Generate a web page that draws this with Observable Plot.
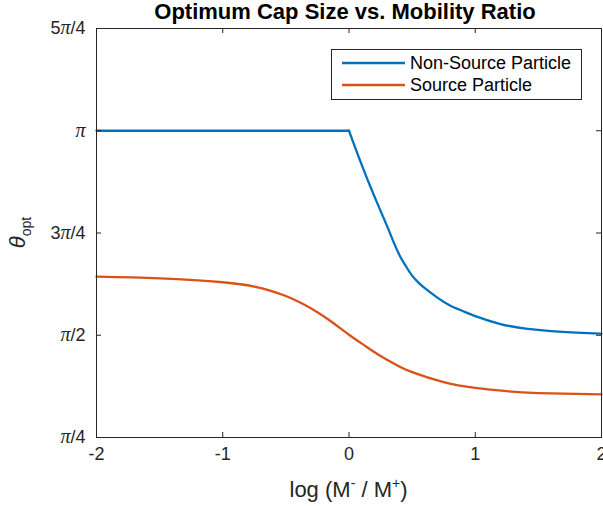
<!DOCTYPE html>
<html>
<head>
<meta charset="utf-8">
<script src="https://cdn.jsdelivr.net/npm/d3@7"></script>
<script src="https://cdn.jsdelivr.net/npm/@observablehq/plot@0.6"></script>
<style>
  html, body { margin: 0; padding: 0; background: white; }
</style>
</head>
<body>
<div id="chart"></div>
<script>
// ---- data (theta in radians) ----
const seriesNames = ["Non-Source Particle", "Source Particle"];
const seriesColors = ["#0072BD", "#D95319"];

const xBlue = [-2, -1, 0, 0.1, 0.2, 0.3, 0.35, 0.4, 0.45, 0.5, 0.55, 0.6, 0.7, 0.8, 0.9, 1.0, 1.2, 1.4, 1.6, 1.8, 2.0];
const thetaBlue = [3.1416, 3.1416, 3.1416, 2.881, 2.640, 2.413, 2.294, 2.186, 2.102, 2.029, 1.975, 1.933, 1.860, 1.799, 1.757, 1.718, 1.657, 1.622, 1.603, 1.591, 1.582];

const xRed = [-2, -1.5, -1, -0.75, -0.625, -0.5, -0.375, -0.25, -0.125, 0, 0.125, 0.25, 0.375, 0.5, 0.75, 1, 1.25, 1.5, 2];
const thetaRed = [2.021, 2.008, 1.978, 1.945, 1.914, 1.872, 1.816, 1.747, 1.665, 1.575, 1.491, 1.411, 1.343, 1.287, 1.211, 1.167, 1.141, 1.127, 1.116];

const xTicks = [-2, -1, 0, 1, 2];
const yTickValues = [Math.PI / 4, Math.PI / 2, 3 * Math.PI / 4, Math.PI, 5 * Math.PI / 4];
const yTickLabels = ["π/4", "π/2", "3π/4", "π", "5π/4"];

const titleText = "Optimum Cap Size vs. Mobility Ratio";

// ---- layout ----
const W = 603, H = 506;
const mL = 96, mR = 2, mT = 28, mB = 69;
const innerW = W - mL - mR, innerH = H - mT - mB;
const axisColor = "#262626";
const tickLen = 5;
const font = "'Liberation Sans', Arial, Helvetica, sans-serif";
const piFont = "'Liberation Serif', 'Times New Roman', serif";

const blue = xBlue.map((x, i) => ({x, y: thetaBlue[i]}));
const red = xRed.map((x, i) => ({x, y: thetaRed[i]}));

const chart = Plot.plot({
  width: W, height: H,
  marginLeft: mL, marginRight: mR, marginTop: mT, marginBottom: mB,
  style: {fontFamily: font, fontSize: "18px", color: axisColor, background: "white", overflow: "visible"},
  x: {domain: [-2, 2]},
  y: {domain: [Math.PI / 4, 5 * Math.PI / 4]},
  marks: [
    Plot.line(blue, {filter: d => d.x <= 0, x: "x", y: "y", stroke: seriesColors[0], strokeWidth: 2.3}),
    Plot.line(blue, {filter: d => d.x >= 0, x: "x", y: "y", stroke: seriesColors[0], strokeWidth: 2.3, curve: "natural"}),
    Plot.line(red, {x: "x", y: "y", stroke: seriesColors[1], strokeWidth: 2.3, curve: "natural"}),
    Plot.tickX(xTicks, {x: d => d, insetTop: innerH - tickLen, stroke: axisColor}),
    Plot.tickX(xTicks, {x: d => d, insetBottom: innerH - tickLen, stroke: axisColor}),
    Plot.tickY(yTickValues, {y: d => d, insetRight: innerW - tickLen, stroke: axisColor}),
    Plot.tickY(yTickValues, {y: d => d, insetLeft: innerW - tickLen, stroke: axisColor}),
    Plot.frame({stroke: axisColor, strokeWidth: 1}),
    Plot.axisX(xTicks, {tickSize: 0, tickPadding: 10, label: null, fontSize: 18, tickFormat: d => String(d).replace("−", "-")}),
    Plot.axisY(yTickValues, {tickSize: 0, tickPadding: 11, label: null, fontSize: 18,
      tickFormat: d => yTickLabels[yTickValues.indexOf(d)]})
  ]
});

document.getElementById("chart").appendChild(chart);

const svg = d3.select(chart);

// render π in y tick labels with a slanted serif glyph (as in the reference)
svg.selectAll("g[aria-label='y-axis tick label'] text").each(function () {
  const t = d3.select(this);
  const s = t.text();
  if (!s.includes("π")) return;
  t.text(null);
  s.split(/(π)/).filter(p => p.length).forEach(p => {
    const sp = t.append("tspan").text(p);
    if (p === "π") sp.attr("font-family", piFont).attr("font-style", "italic").attr("font-size", 20);
  });
});

// title
svg.append("text")
  .attr("x", 345).attr("y", 19)
  .attr("text-anchor", "middle")
  .attr("font-family", font).attr("font-weight", "bold").attr("font-size", 22)
  .attr("fill", "#000")
  .text(titleText);

// x label: log (M⁻ / M⁺)
const xl = svg.append("text")
  .attr("x", mL + innerW / 2).attr("y", 497)
  .attr("text-anchor", "middle")
  .attr("font-family", font).attr("font-size", 22)
  .attr("fill", axisColor);
xl.append("tspan").text("log (M");
xl.append("tspan").attr("dy", -9).attr("font-size", 14).text("-");
xl.append("tspan").attr("dy", 9).text(" / M");
xl.append("tspan").attr("dy", -9).attr("font-size", 14).text("+");
xl.append("tspan").attr("dy", 9).text(")");

// y label: θ_opt
const yl = svg.append("text")
  .attr("transform", `translate(25,${mT + innerH / 2}) rotate(-90)`)
  .attr("text-anchor", "middle")
  .attr("font-family", font).attr("font-size", 22)
  .attr("fill", axisColor);
yl.append("tspan").attr("font-style", "italic").text("θ");
yl.append("tspan").attr("dy", 6).attr("font-size", 14).text("opt");

// legend
const lg = svg.append("g");
lg.append("rect")
  .attr("x", 331.5).attr("y", 49.5).attr("width", 250).attr("height", 50)
  .attr("fill", "white").attr("stroke", axisColor).attr("stroke-width", 1);
seriesNames.forEach((name, i) => {
  const cy = 63 + i * 22;
  lg.append("line")
    .attr("x1", 342).attr("x2", 405).attr("y1", cy).attr("y2", cy)
    .attr("stroke", seriesColors[i]).attr("stroke-width", 2.3);
  lg.append("text")
    .attr("x", 410).attr("y", cy).attr("dy", "0.35em")
    .attr("text-anchor", "start")
    .attr("font-family", font).attr("font-size", 18)
    .attr("fill", "#000")
    .text(name);
});
</script>
</body>
</html>
